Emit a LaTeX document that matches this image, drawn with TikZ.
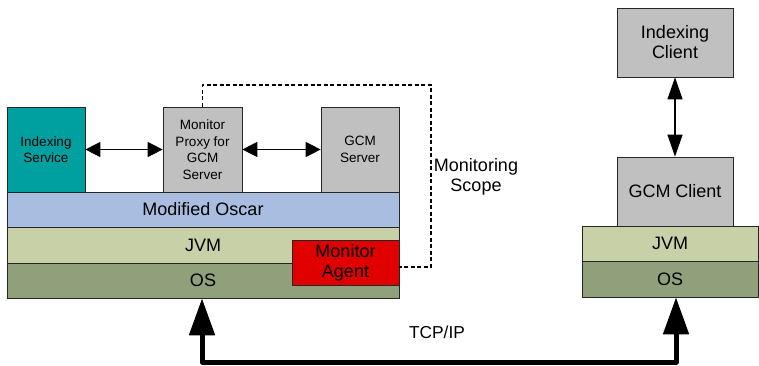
\documentclass[tikz,border=0pt]{standalone}
\usepackage{fontspec}
\setmainfont{Liberation Sans}
\usetikzlibrary{arrows.meta}
\definecolor{stackteal}{RGB}{0,160,160}
\definecolor{stackgrey}{RGB}{192,192,192}
\definecolor{stackblue}{RGB}{168,189,224}
\definecolor{stackjvm}{RGB}{200,208,168}
\definecolor{stackos}{RGB}{143,160,122}
\definecolor{stackred}{RGB}{224,0,0}
\tikzset{
    box/.style={draw=black!85, line width=0.7pt, inner sep=0pt, align=center},
    smalltext/.style={font=\fontsize{13.5}{16.5}\selectfont},
    bigtext/.style={font=\fontsize{18}{20}\selectfont},
    twoway/.style={{Triangle[length=15pt,width=15pt]}-{Triangle[length=15pt,width=15pt]}, line width=1.2pt},
    twowayv/.style={{Triangle[length=22pt,width=15pt]}-{Triangle[length=22pt,width=15pt]}, line width=1.2pt},
    tcparrow/.style={{Triangle[length=37pt,width=25pt]}-{Triangle[length=37pt,width=25pt]}, line width=5pt, line join=round},
    scopeline/.style={line width=1.3pt, dash pattern=on 4pt off 2.5pt}
}
\begin{document}
\begin{tikzpicture}[x=1pt, y=-1pt]
    \useasboundingbox (0,0) rectangle (759,366);

    % server side: applications
    \node[box, smalltext, fill=stackteal, minimum width=78pt, minimum height=85pt] (idxsvc) at (46,149.5) {Indexing\\Service};
    \node[box, smalltext, fill=stackgrey, minimum width=79pt, minimum height=85pt] (proxy) at (202.5,149.5) {Monitor\\Proxy for\\GCM\\Server};
    \node[box, smalltext, fill=stackgrey, minimum width=78pt, minimum height=85pt] (gcmsrv) at (360,149.5) {GCM\\Server};

    % server side: layers
    \node[box, bigtext, fill=stackblue, minimum width=392pt, minimum height=35pt] (oscar) at (203,209.5) {Modified Oscar};
    \node[box, bigtext, fill=stackjvm, minimum width=392pt, minimum height=36pt] (jvmL) at (203,245) {JVM};
    \node[box, bigtext, fill=stackos, minimum width=392pt, minimum height=35pt] (osL) at (203,280.5) {OS};
    \node[box, bigtext, fill=stackred, minimum width=107pt, minimum height=45pt] (agent) at (345.5,262.5) {Monitor\\Agent};

    % client side
    \node[box, bigtext, fill=stackgrey, minimum width=116pt, minimum height=69pt] (idxcli) at (675,42.5) {Indexing\\Client};
    \node[box, bigtext, fill=stackgrey, minimum width=116pt, minimum height=69pt] (gcmcli) at (675,191.5) {GCM Client};
    \node[box, bigtext, fill=stackjvm, minimum width=176pt, minimum height=35pt] (jvmR) at (670,243.5) {JVM};
    \node[box, bigtext, fill=stackos, minimum width=176pt, minimum height=36pt] (osR) at (670,279) {OS};

    % connectors
    \draw[twoway] (idxsvc) -- (proxy);
    \draw[twoway] (proxy) -- (gcmsrv);
    \draw[twowayv] (idxcli) -- (gcmcli);

    % monitoring scope
    \coordinate (scopecorner) at (431,85);
    \draw[scopeline] (proxy.north) |- (scopecorner) |- ([yshift=-4.5pt]agent.east);
    \node[bigtext, align=center] (scopelabel) at (476,177) {Monitoring\\Scope};

    % network
    \coordinate (tcpbottom) at (440,362);
    \draw[tcparrow] ([xshift=-1pt]osL.south) |- (tcpbottom) -| ([xshift=6pt]osR.south);
    \node[font=\fontsize{17.3}{20}\selectfont] (tcplabel) at (437,332) {TCP/IP};
\end{tikzpicture}
\end{document}
